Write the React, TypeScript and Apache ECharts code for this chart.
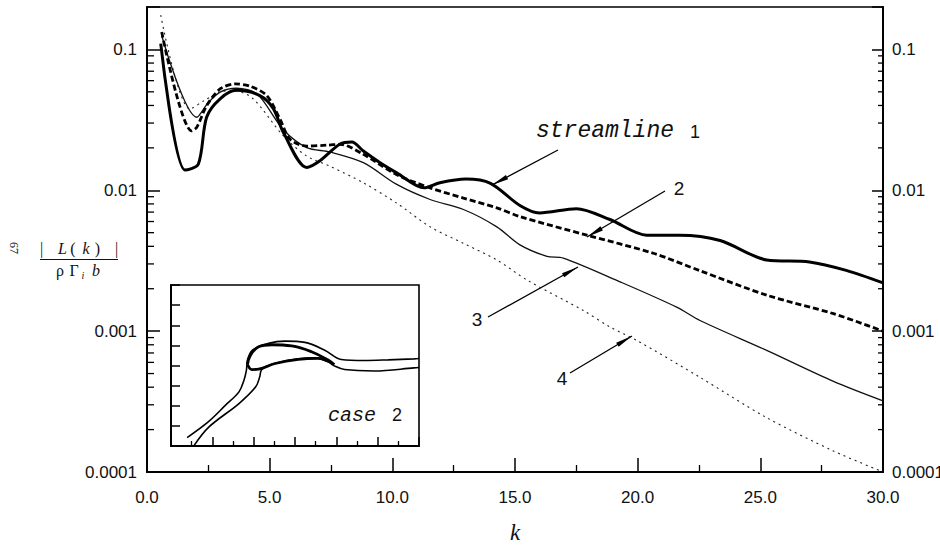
import React, { useEffect, useRef } from 'react';
import * as echarts from 'echarts';

// |L(k)| / (rho Gamma_i b) for four streamlines, sampled along k
const streamline1: [number, number][] = [
  [0.56, 0.11], [1.55, 0.0139], [2.09, 0.0153], [2.43, 0.033], [2.98, 0.0446], [3.65, 0.0512],
  [4.6, 0.047], [5.15, 0.038], [5.56, 0.0257], [6.51, 0.0145], [7.05, 0.0162], [7.87, 0.0213],
  [8.35, 0.022], [8.82, 0.019], [9.5, 0.0157], [10.18, 0.0133], [11.3, 0.0104], [11.94, 0.0113],
  [13.0, 0.012], [14.0, 0.0112], [15.2, 0.0078], [16.0, 0.0069], [17.5, 0.0074], [18.87, 0.0062],
  [20.37, 0.0048], [21.7, 0.0048], [23.36, 0.0044], [25.26, 0.0032], [27.0, 0.0031], [28.5, 0.0027],
  [30, 0.0022],
];
const streamline2: [number, number][] = [
  [0.6, 0.133], [1.82, 0.0264], [2.03, 0.028], [2.43, 0.0398], [2.98, 0.0524], [3.59, 0.0569],
  [4.2, 0.0548], [4.88, 0.047], [5.42, 0.032], [5.83, 0.023], [6.51, 0.0206], [7.33, 0.0209],
  [7.87, 0.0212], [8.82, 0.018], [10.18, 0.0129], [11.54, 0.0104], [12.9, 0.0088], [14.26, 0.0075],
  [15.2, 0.0065], [17.93, 0.0048], [20.64, 0.00357], [22.55, 0.00268], [25.26, 0.0018],
  [27.98, 0.00133], [30, 0.001],
];
const streamline3: [number, number][] = [
  [0.6, 0.125], [2.03, 0.033], [2.5, 0.042], [3.0, 0.05], [3.65, 0.053], [4.5, 0.048],
  [5.55, 0.027], [6.51, 0.0201], [7.46, 0.0187], [8.82, 0.0157], [10.18, 0.011], [11.54, 0.0086],
  [12.9, 0.0073], [14.26, 0.0055], [15.2, 0.0041], [16.3, 0.0034], [16.97, 0.0033], [19.28, 0.00224],
  [21.59, 0.00148], [22.54, 0.00119], [25.26, 0.00073], [27.98, 0.00044], [30, 0.00032],
];
const streamline4: [number, number][] = [
  [0.56, 0.175], [1.75, 0.0377], [2.3, 0.043], [3.0, 0.05], [3.5, 0.051], [4.3, 0.045],
  [5.56, 0.0243], [6.51, 0.0175], [7.46, 0.0148], [8.82, 0.0113], [10.18, 0.0081], [11.54, 0.0055],
  [12.9, 0.0042], [14.26, 0.0032], [15.5, 0.0023], [17.79, 0.0014], [18.87, 0.00107], [19.96, 0.00086],
  [22.54, 0.00047], [25.26, 0.000243], [27.98, 0.000141], [30, 0.0001],
];

// inset: streamline pair of case 2 and the separation bubble between them
const insetUpper: [number, number][] = [
  [0.78, 0.42], [1.8, 1.2], [2.64, 2.03], [3.29, 2.69], [3.53, 3.27], [3.65, 3.77], [3.7, 4.27],
  [3.94, 4.77], [4.72, 5.1], [5.52, 5.21], [6.48, 5.15], [7.44, 4.76], [8.24, 4.3], [9.36, 4.25],
  [10.5, 4.28], [11.76, 4.33], [12, 4.35],
];
const insetLower: [number, number][] = [
  [1.12, 0.03], [1.84, 0.95], [3.29, 2.11], [4.1, 2.94], [4.29, 3.43], [4.37, 3.77], [4.6, 3.95],
  [5.2, 4.15], [6.16, 4.33], [6.96, 4.38], [7.6, 4.18], [7.92, 3.97], [8.4, 3.8], [9.84, 3.73],
  [11.76, 3.88], [12, 3.9],
];
const insetBubble: [number, number][] = [
  [3.7, 4.05], [3.84, 4.5], [4.24, 4.93], [4.88, 5.03], [5.84, 4.97], [6.8, 4.68], [7.6, 4.27],
  [7.9, 4.05], [7.12, 4.35], [6.16, 4.3], [5.04, 4.1], [4.24, 3.82], [3.92, 3.8], [3.7, 4.05],
];

const decadeLabels = ['0.0001', '0.001', '0.01', '0.1'];
const decadeExponents = [-4, -3, -2, -1];
const minorMultipliers = [2, 3, 4, 5, 6, 7, 8, 9];

const K_MIN = 0;
const K_MAX = 30;
const Y_MIN = 0.0001;
const Y_MAX = 0.2;

const SANS = '"Liberation Sans", Arial, sans-serif';
const SERIF = '"Liberation Serif", "Times New Roman", serif';
const MONO = '"Liberation Mono", "Courier New", monospace';

function decadeLabel(v: number): string {
  const lg = Math.log10(v);
  const e = Math.round(lg);
  if (Math.abs(lg - e) > 1e-6) return '';
  const i = decadeExponents.indexOf(e);
  return i >= 0 ? decadeLabels[i] : '';
}

function arrow(x1: number, y1: number, x2: number, y2: number): any[] {
  const dx = x2 - x1;
  const dy = y2 - y1;
  const len = Math.hypot(dx, dy);
  const ux = dx / len;
  const uy = dy / len;
  const head = 17;
  const hw = 2.4;
  const bx = x2 - ux * head;
  const by = y2 - uy * head;
  const nx = -uy;
  const ny = ux;
  return [
    { type: 'line', shape: { x1, y1, x2, y2 }, style: { stroke: '#000', lineWidth: 1.3 } },
    {
      type: 'polygon',
      shape: { points: [[x2, y2], [bx + nx * hw, by + ny * hw], [bx - nx * hw, by - ny * hw]] },
      style: { fill: '#000' },
    },
  ];
}

function glyph(text: string, x: number, y: number, font: string): any {
  return {
    type: 'text',
    style: { text, x, y, font, fill: '#111', textAlign: 'center', textVerticalAlign: 'middle', verticalAlign: 'middle' },
  };
}

function leftText(text: string, x: number, y: number, font: string): any {
  return {
    type: 'text',
    style: { text, x, y, font, fill: '#111', textAlign: 'left', textVerticalAlign: 'middle', verticalAlign: 'middle' },
  };
}

export default function App() {
  const ref = useRef<HTMLDivElement>(null);

  useEffect(() => {
    document.body.style.margin = '0';
    if (!ref.current) return;
    const chart = echarts.init(ref.current, undefined, { renderer: 'svg' });

    const minorTicks: number[] = [];
    decadeExponents.forEach((e) => {
      minorMultipliers.forEach((m) => {
        const v = m * Math.pow(10, e);
        if (v < Y_MAX) minorTicks.push(v);
      });
    });

    const lineBase = { type: 'line', xAxisIndex: 0, yAxisIndex: 0, showSymbol: false, symbol: 'none', smooth: 0.3, silent: true };
    const insetBase = { type: 'line', xAxisIndex: 1, yAxisIndex: 2, showSymbol: false, symbol: 'none', smooth: 0.35, silent: true };

    const option: any = {
      animation: false,
      backgroundColor: '#fff',
      grid: [
        {
          left: 147, top: 7, width: 736, height: 465, containLabel: false, outerBoundsMode: 'none',
          show: true, borderColor: '#000', borderWidth: 1.5, backgroundColor: 'transparent',
        },
        {
          left: 171, top: 285, width: 248, height: 161, containLabel: false, outerBoundsMode: 'none',
          show: true, borderColor: '#000', borderWidth: 1.6, backgroundColor: '#fff',
        },
      ],
      xAxis: [
        {
          gridIndex: 0, type: 'value', min: K_MIN, max: K_MAX, interval: 5,
          axisLine: { lineStyle: { color: '#000', width: 2 } },
          axisTick: { inside: true, length: 14, lineStyle: { color: '#000', width: 1.5 } },
          minorTick: { show: true, splitNumber: 2, length: 7, lineStyle: { color: '#000', width: 1.3 } },
          axisLabel: { margin: 17, fontSize: 17, fontFamily: SANS, color: '#111', formatter: (v: number) => v.toFixed(1) },
          splitLine: { show: false },
          name: 'k', nameLocation: 'middle', nameGap: 49,
          nameTextStyle: { fontFamily: SERIF, fontStyle: 'italic', fontSize: 23, color: '#111' },
        },
        {
          gridIndex: 1, type: 'value', min: 0, max: 12, interval: 2,
          axisLine: { lineStyle: { color: '#000', width: 2 } },
          axisTick: { inside: true, length: 9, lineStyle: { color: '#000', width: 1.5 } },
          minorTick: { show: true, splitNumber: 2, length: 5, lineStyle: { color: '#000', width: 1.3 } },
          axisLabel: { show: false },
          splitLine: { show: false },
        },
      ],
      yAxis: [
        {
          gridIndex: 0, type: 'log', logBase: 10, min: Y_MIN, max: Y_MAX, position: 'left',
          axisLine: { lineStyle: { color: '#000', width: 2 } },
          axisTick: { inside: true, length: 13, lineStyle: { color: '#000', width: 1.5 } },
          axisLabel: { margin: 10, fontSize: 17, fontFamily: SANS, color: '#111', formatter: decadeLabel },
          splitLine: { show: false },
        },
        {
          gridIndex: 0, type: 'log', logBase: 10, min: Y_MIN, max: Y_MAX, position: 'right',
          axisLine: { lineStyle: { color: '#000', width: 2 } },
          axisTick: { inside: true, length: 11, lineStyle: { color: '#000', width: 1.5 } },
          axisLabel: { margin: 9, fontSize: 17, fontFamily: SANS, color: '#111', formatter: decadeLabel },
          splitLine: { show: false },
        },
        {
          gridIndex: 1, type: 'value', min: 0, max: 8, interval: 1,
          axisLine: { lineStyle: { color: '#000', width: 2 } },
          axisTick: { inside: true, length: 9, lineStyle: { color: '#000', width: 1.5 } },
          axisLabel: { show: false },
          splitLine: { show: false },
        },
      ],
      series: [
        { ...lineBase, name: 'streamline 4', data: streamline4, lineStyle: { color: '#222', width: 1.1, type: [2, 4] } },
        { ...lineBase, name: 'streamline 3', data: streamline3, lineStyle: { color: '#111', width: 1.3 } },
        { ...lineBase, name: 'streamline 2', data: streamline2, lineStyle: { color: '#000', width: 2.8, type: [6, 3] } },
        { ...lineBase, name: 'streamline 1', data: streamline1, lineStyle: { color: '#000', width: 3 } },
        {
          type: 'custom', name: 'log minor ticks', xAxisIndex: 0, yAxisIndex: 0, silent: true, clip: false,
          data: minorTicks.map((v) => [K_MIN, v]),
          renderItem: (_params: any, api: any) => {
            const v = api.value(1);
            const l = api.coord([K_MIN, v]);
            const r = api.coord([K_MAX, v]);
            return {
              type: 'group',
              children: [
                { type: 'line', shape: { x1: l[0], y1: l[1], x2: l[0] + 7, y2: l[1] }, style: { stroke: '#000', lineWidth: 1.3 } },
                { type: 'line', shape: { x1: r[0] - 5, y1: r[1], x2: r[0], y2: r[1] }, style: { stroke: '#000', lineWidth: 1.3 } },
              ],
            };
          },
        },
        { ...insetBase, name: 'inset upper', data: insetUpper, lineStyle: { color: '#000', width: 1.6 } },
        { ...insetBase, name: 'inset lower', data: insetLower, lineStyle: { color: '#000', width: 1.6 } },
        { ...insetBase, name: 'inset bubble', data: insetBubble, smooth: 0.4, lineStyle: { color: '#000', width: 2.8 } },
      ],
      graphic: [
        // y-axis quantity as a fraction
        {
          type: 'group',
          children: [
            glyph('|', 41.5, 248, `16px ${SERIF}`),
            glyph('L', 62.5, 248, `italic 16px ${SERIF}`),
            glyph('(', 73, 248, `16px ${SERIF}`),
            glyph('k', 86, 248, `italic 16px ${SERIF}`),
            glyph(')', 97.5, 248, `16px ${SERIF}`),
            glyph('|', 116.7, 248, `16px ${SERIF}`),
            { type: 'line', shape: { x1: 40, y1: 259.5, x2: 118, y2: 259.5 }, style: { stroke: '#111', lineWidth: 1.1 } },
            glyph('ρ', 60, 270, `16px ${SERIF}`),
            glyph('Γ', 74, 270, `16px ${SERIF}`),
            glyph('i', 83, 275, `italic 10px ${SERIF}`),
            glyph('b', 96, 270, `italic 16px ${SERIF}`),
          ],
        },
        {
          type: 'text', x: 14, y: 248, rotation: -Math.PI / 2,
          style: { text: '67', font: `12px ${SERIF}`, fill: '#222', textAlign: 'center', textVerticalAlign: 'middle', verticalAlign: 'middle' },
        },
        // curve annotations
        leftText('streamline', 536, 131, `italic 23px ${MONO}`),
        glyph('1', 695, 132, `18px ${SANS}`),
        ...arrow(558, 150, 492, 185),
        glyph('2', 679, 188, `19px ${SANS}`),
        ...arrow(665, 191, 587, 237),
        glyph('3', 477, 319, `19px ${SANS}`),
        ...arrow(488, 317, 578, 267),
        glyph('4', 562, 378, `19px ${SANS}`),
        ...arrow(570, 373, 632, 336),
        leftText('case', 328, 415, `italic 20px ${MONO}`),
        glyph('2', 397, 415, `18px ${SANS}`),
      ],
    };

    chart.setOption(option);
    return () => chart.dispose();
  }, []);

  return <div ref={ref} style={{ width: 940, height: 548 }} />;
}
